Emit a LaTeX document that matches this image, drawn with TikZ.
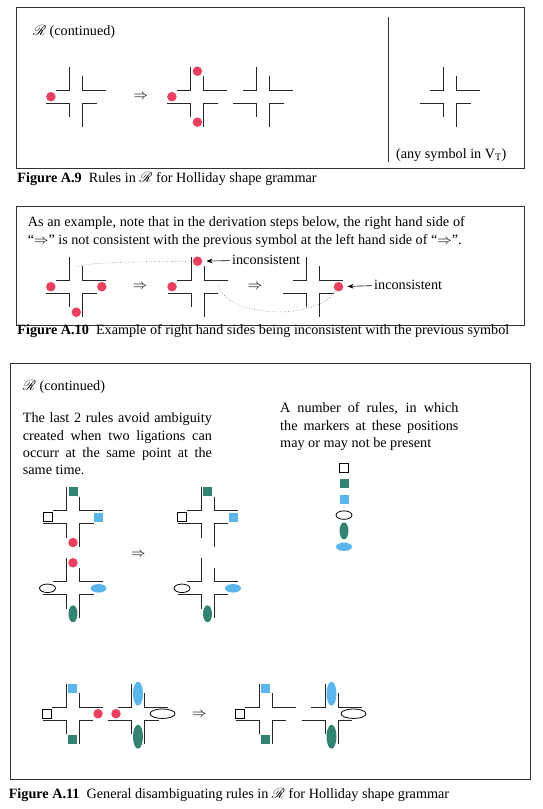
\documentclass[tikz,border=0pt]{standalone}
\usepackage{fontspec}
\setmainfont{Liberation Serif}
\usepackage{mathrsfs}
\usetikzlibrary{shapes.geometric,arrows.meta}
\definecolor{dotred}{RGB}{234,64,96}
\definecolor{markteal}{RGB}{50,132,112}
\definecolor{markblue}{RGB}{92,182,236}

\begin{document}
\begin{tikzpicture}[x=1pt,y=-1pt,>={Stealth[length=6pt,width=4.5pt]},node distance=25.5pt,font=\fontsize{14.2}{17.3}\selectfont,
    frame/.style={draw=black!80,line width=1pt},
    strand/.style={draw=black!85,line width=1pt},
    junction/.pic={
        \draw[strand] (-6.5,-30) -- (-6.5,-6.5) -- (-20.5,-6.5);
        \draw[strand] (6.5,-20.5) -- (6.5,-6.5) -- (30,-6.5);
        \draw[strand] (-30,6.5) -- (-6.5,6.5) -- (-6.5,20.5);
        \draw[strand] (20.5,6.5) -- (6.5,6.5) -- (6.5,30);
    },
    note/.style={inner sep=0pt,anchor=base west},
    dot/.style={circle,fill=dotred,inner sep=0pt,minimum size=9.5pt},
    sq/.style={rectangle,inner sep=0pt,minimum size=9pt},
    wsq/.style={sq,draw,line width=0.8pt,fill=white},
    hoval/.style={ellipse,inner sep=0pt,minimum width=16pt,minimum height=8.5pt},
    voval/.style={ellipse,inner sep=0pt,minimum width=9pt,minimum height=17pt},
    bigh/.style={hoval,minimum width=25pt,minimum height=9.5pt},
    bigv/.style={voval,minimum width=10pt,minimum height=24pt},
    hint/.style={dotted,draw=black!55,line width=0.6pt}]

                \useasboundingbox (0,0) rectangle (543,809);

                \draw[frame] (16.2,7.3) rectangle (524.1,168.3);
                \draw[frame,line width=0.8pt] (388,16.7) -- (388,162.3);
                \draw[frame] (16.2,206.7) rectangle (524.1,325);
                \draw[frame] (10,363.5) rectangle (530.5,779.5);

                \node[note] (t1) at (32.8,35.5) {$\mathscr{R}$ (continued)};
                \node[note] (t2) at (395.9,158) {(any symbol in V\textsubscript{T})};
                \node[note] (c1) at (17.2,182.7) {\textbf{Figure A.9}\enspace Rules in $\mathscr{R}$ for Holliday shape grammar};

                \path (76.4,96.7) coordinate (j1) pic {junction};
                \path (197.4,96.7) coordinate (j2) pic {junction};
                \path (263,96.7) coordinate (j3) pic {junction};
                \path (450,96.7) coordinate (j4) pic {junction};

                \node[dot] (r1) [left of = j1] {};
                \node (a1) at (140.7,96.7) {$\Rightarrow$};
                \node[dot] (r2) [above of = j2] {};
                \node[dot] (r3) [left of = j2] {};
                \node[dot] (r4) [below of = j2] {};

                \node[note,text width=437pt,align=justify] (t3) at (27.6,226.7) {As an example, note that in the derivation steps below, the right hand side of\linebreak “$\Rightarrow$” is not consistent with the previous symbol at the left hand side of “$\Rightarrow$”.};
                \node[note] (c2) at (17.2,334.3) {\textbf{Figure A.10}\enspace Example of right hand sides being inconsistent with the previous symbol};

                \path (76.3,286.7) coordinate (j5) pic {junction};
                \path (197.5,286.7) coordinate (j6) pic {junction};
                \path (313,286.7) coordinate (j7) pic {junction};

                \node[dot] (r5) [left of = j5] {};
                \node[dot] (r6) [right of = j5] {};
                \node[dot] (r7) [below of = j5] {};
                \node (a2) at (140,286.7) {$\Rightarrow$};
                \node[dot] (r8) [above of = j6] {};
                \node[dot] (r9) [left of = j6] {};
                \node (a3) at (255,286.7) {$\Rightarrow$};
                \node[dot] (r10) [right of = j7] {};

                \node[inner sep=2pt,anchor=west] (i1) at (230,260) {inconsistent};
                \node[inner sep=2pt,anchor=west] (i2) at (372,284.5) {inconsistent};
                \draw[->,line width=0.6pt,shorten >=4pt] (i1) -- (r8);
                \draw[->,line width=0.6pt,shorten >=4pt] (i2) -- (r10);

                \path (j5) ++(0,-20) coordinate (e1);
                \path (j6) ++(21,0) coordinate (e2);
                \draw[hint] (e1) .. controls +(22,-6) and +(-40,1) .. (r8.west);
                \draw[hint] (e2) .. controls +(12,32) and +(-16,30) .. (r10.-130);

                \node[note] (t4) at (22.7,390) {$\mathscr{R}$ (continued)};
                \node[note,text width=189pt,align=justify] (t5) at (22.7,422.7) {The last 2 rules avoid ambiguity\linebreak created when two ligations can\linebreak occurr at the same point at the\linebreak same time.};
                \node[note,text width=178.3pt,align=justify] (t6) at (280,412.7) {A number of rules, in which\linebreak the markers at these positions\linebreak may or may not be present};
                \node[note] (c3) at (8.6,798.3) {\textbf{Figure A.11}\enspace General disambiguating rules in $\mathscr{R}$ for Holliday shape grammar};

                \node[wsq] (k1) at (344,467.7) {};
                \node[sq,fill=markteal] (k2) [below of = k1, node distance=15.8pt] {};
                \node[sq,fill=markblue] (k3) [below of = k2, node distance=15.8pt] {};
                \node[hoval,draw,line width=0.8pt] (k4) [below of = k3, node distance=15.8pt] {};
                \node[voval,fill=markteal] (k5) [below of = k4, node distance=15.8pt] {};
                \node[hoval,fill=markblue] (k6) [below of = k5, node distance=15.8pt] {};

                \path (73,517) coordinate (j8) pic {junction};
                \path (73,588.3) coordinate (j9) pic {junction};
                \path (207.5,517) coordinate (j10) pic {junction};
                \path (207.5,588.3) coordinate (j11) pic {junction};

                \node[sq,fill=markteal] (m1) [above of = j8] {};
                \node[wsq] (m2) [left of = j8] {};
                \node[sq,fill=markblue] (m3) [right of = j8] {};
                \node[dot] (m4) [below of = j8] {};
                \node[dot] (m5) [above of = j9] {};
                \node[hoval,draw,line width=0.8pt,fill=white] (m6) [left of = j9] {};
                \node[hoval,fill=markblue] (m7) [right of = j9] {};
                \node[voval,fill=markteal] (m8) [below of = j9] {};
                \node (a4) at (138.3,555) {$\Rightarrow$};
                \node[sq,fill=markteal] (m9) [above of = j10] {};
                \node[wsq] (m10) [left of = j10] {};
                \node[sq,fill=markblue] (m11) [right of = j10] {};
                \node[hoval,draw,line width=0.8pt,fill=white] (m12) [left of = j11] {};
                \node[hoval,fill=markblue] (m13) [right of = j11] {};
                \node[voval,fill=markteal] (m14) [below of = j11] {};

                \path (72.5,713.7) coordinate (j12) pic {junction};
                \path (138,713.7) coordinate (j13) pic {junction};
                \path (265.5,713.7) coordinate (j14) pic {junction};
                \path (331.5,713.7) coordinate (j15) pic {junction};

                \node[sq,fill=markblue] (n1) [above of = j12] {};
                \node[wsq] (n2) [left of = j12] {};
                \node[sq,fill=markteal] (n3) [below of = j12] {};
                \node[dot] (n4) [right of = j12] {};
                \node[dot] (n5) [left of = j13, node distance=22pt] {};
                \node[bigv,fill=markblue] (n6) [above of = j13, node distance=20pt] {};
                \node[bigh,draw,line width=0.8pt,fill=white] (n7) [right of = j13, node distance=24.5pt] {};
                \node[bigv,fill=markteal] (n8) [below of = j13, node distance=23pt] {};
                \node (a5) at (199.3,715) {$\Rightarrow$};
                \node[sq,fill=markblue] (n9) [above of = j14] {};
                \node[wsq] (n10) [left of = j14] {};
                \node[sq,fill=markteal] (n11) [below of = j14] {};
                \node[bigv,fill=markblue] (n12) [above of = j15, node distance=20pt] {};
                \node[bigh,draw,line width=0.8pt,fill=white] (n13) [right of = j15, node distance=22pt] {};
                \node[bigv,fill=markteal] (n14) [below of = j15, node distance=23pt] {};

\end{tikzpicture}
\end{document}
